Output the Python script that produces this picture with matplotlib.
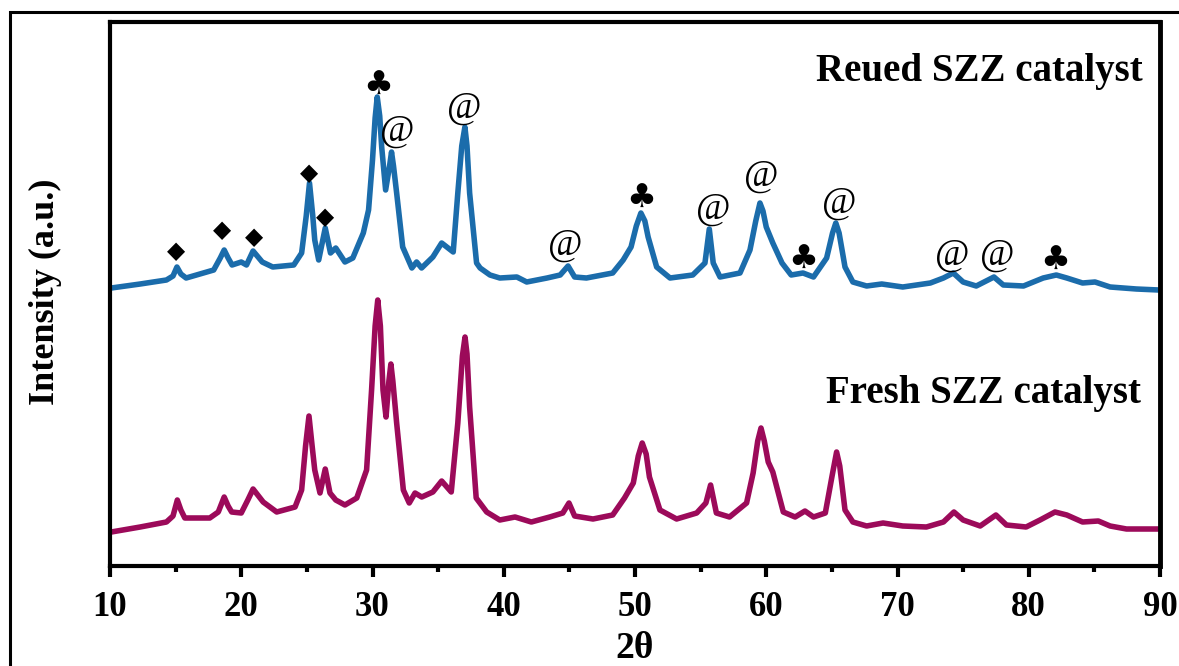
import matplotlib
matplotlib.use("Agg")
import matplotlib.pyplot as plt
from matplotlib.patches import Rectangle

# 2-theta positions and intensities (a.u.)
x_reused = [10.1, 12.3, 14.3, 14.8, 15.1, 15.4, 15.8, 17.9, 18.4, 18.7, 19.0, 19.3, 20.0, 20.4,
            20.9, 21.6, 22.4, 24.0, 24.6, 24.95, 25.2, 25.45, 25.6, 25.9, 26.4, 26.8, 27.2,
            27.9, 28.5, 29.3, 29.7, 30.0, 30.2, 30.36, 30.55, 30.7, 31.0, 31.3, 31.45, 31.6,
            31.84, 32.3, 33.0, 33.36, 33.74, 34.6, 35.27, 36.15, 36.5, 36.8, 37.04, 37.2,
            37.4, 37.93, 38.2, 38.95, 39.7, 41.0, 41.75, 43.3, 44.3, 44.9, 45.4, 46.3,
            48.3, 49.1, 49.7, 50.1, 50.45, 50.75, 51.0, 51.65, 52.67, 54.4, 55.33, 55.66,
            55.96, 56.48, 58.0, 58.76, 59.2, 59.52, 59.75, 60.0, 60.5, 61.2, 61.9, 62.8,
            63.6, 64.6, 65.05, 65.3, 65.55, 66.0, 66.6, 67.65, 68.8, 70.4, 72.5, 73.5,
            74.25, 75.0, 76.0, 77.35, 78.06, 79.6, 81.1, 82.1, 82.9, 84.1, 85.05, 86.2,
            88.2, 89.9]
y_reused = [278, 282, 286, 290, 299, 292, 288, 296, 308, 316, 308, 301, 304, 301,
            315, 304, 299, 301, 313, 350, 383, 350, 326, 306, 338, 313, 318,
            304, 308, 333, 356, 406, 448, 469, 450, 419, 376, 400, 414, 400,
            373, 319, 298, 304, 298, 309, 323, 314, 373, 420, 439, 420,
            373, 303, 298, 291, 288, 289, 284, 288, 291, 300, 289, 288,
            293, 306, 319, 340, 353, 345, 329, 299, 288, 291, 303, 337,
            303, 289, 293, 316, 345, 363, 355, 339, 323, 303, 291, 293,
            289, 308, 333, 343, 333, 299, 284, 280, 282, 279, 283, 288,
            293, 284, 280, 289, 281, 280, 288, 291, 288, 283, 284, 279,
            277, 276]

x_fresh = [10.1, 12.3, 14.3, 14.8, 15.13, 15.4, 15.7, 17.6, 18.25, 18.7, 19.0, 19.27, 20.0,
           20.5, 20.9, 21.67, 22.7, 24.1, 24.6, 24.9, 25.16, 25.4, 25.6, 26.0, 26.4, 26.76,
           27.2, 27.9, 28.8, 29.55, 29.93, 30.2, 30.4, 30.6, 30.8, 31.03, 31.25, 31.4, 31.55,
           31.84, 32.35, 32.8, 33.24, 33.75, 34.6, 35.27, 36.0, 36.5, 36.85, 37.05, 37.2,
           37.4, 37.9, 38.7, 39.7, 40.86, 42.1, 43.5, 44.5, 44.97, 45.4, 46.8, 48.3,
           49.2, 49.87, 50.25, 50.55, 50.85, 51.1, 51.9, 53.17, 54.7, 55.4, 55.76, 56.2,
           57.2, 58.5, 59.0, 59.35, 59.6, 59.85, 60.15, 60.5, 61.3, 62.2, 62.95, 63.6,
           64.5, 65.0, 65.36, 65.6, 66.0, 66.6, 67.65, 68.9, 70.4, 72.2, 73.5, 74.3,
           75.0, 76.3, 77.5, 78.3, 79.8, 80.86, 82.0, 82.9, 84.1, 85.3, 86.2, 87.45,
           89.9]
y_fresh = [34, 39, 44, 50, 66, 56, 48, 48, 54, 69, 60, 54, 53,
           66, 77, 64, 54, 59, 76, 120, 150, 120, 96, 73, 97, 73,
           66, 61, 68, 96, 176, 240, 266, 240, 176, 149, 185, 202, 185,
           143, 76, 63, 73, 69, 74, 85, 74, 143, 210, 229, 212,
           159, 68, 54, 46, 49, 44, 49, 53, 63, 50, 47, 51,
           68, 83, 110, 123, 112, 89, 56, 47, 53, 63, 81, 53,
           49, 63, 93, 125, 138, 125, 104, 94, 54, 49, 55, 49,
           53, 89, 114, 100, 56, 44, 40, 43, 40, 39, 44, 54,
           46, 40, 51, 41, 39, 46, 54, 51, 44, 45, 40, 37,
           37]

# phase markers above the reused pattern
mark_x = [15.03, 18.5, 20.97, 25.16, 26.4, 30.4, 31.9, 37.0, 44.7, 50.5,
          56.0, 59.6, 62.8, 65.6, 74.2, 77.6, 82.0]
mark_y = [315, 336, 329, 393, 349, 481, 435, 458, 321, 368,
          357, 390, 307, 363, 311, 311, 306]
mark_s = ["◆", "◆", "◆", "◆", "◆", "♣", "@", "@", "@", "♣",
          "@", "@", "♣", "@", "@", "@", "♣"]

serif = "Liberation Serif"
W, H = 1179, 666

fig = plt.figure(figsize=(11.79, 6.66), dpi=100)
ax = fig.add_axes([110 / W, 1 - 566 / H, 1050 / W, 544 / H])

ax.plot(x_reused, y_reused, color="#1b6cab", lw=4, solid_joinstyle="round")
ax.plot(x_fresh, y_fresh, color="#9c0a5a", lw=4, solid_joinstyle="round")

for mx, my, ms in zip(mark_x, mark_y, mark_s):
    if ms == "@":
        ax.text(mx, my, ms, fontsize=27, family=serif, ha="center", va="center")
    elif ms == "♣":
        ax.text(mx, my, ms, fontsize=24, family="DejaVu Sans", ha="center", va="center")
    else:
        ax.text(mx, my, ms, fontsize=17, family="DejaVu Sans", ha="center", va="center")

fig.text(1143 / W, 1 - 72 / H, "Reued SZZ catalyst", fontsize=28, fontweight="bold",
         family=serif, ha="right", va="center")
fig.text(1141 / W, 1 - 394 / H, "Fresh SZZ catalyst", fontsize=28, fontweight="bold",
         family=serif, ha="right", va="center")

ax.set_xlim(10, 90)
ax.set_ylim(0, 544)
ax.set_xticks(range(10, 91, 10))
ax.set_xticks(range(15, 90, 10), minor=True)
ax.set_yticks([])
for lbl in ax.get_xticklabels():
    lbl.set_fontfamily(serif)
    lbl.set_fontweight("bold")
    lbl.set_fontsize(25)
ax.tick_params(axis="x", which="major", direction="out", length=8, width=3, pad=10)
ax.tick_params(axis="x", which="minor", direction="out", length=4, width=3)
for sp in ax.spines.values():
    sp.set_linewidth(3)
ax.spines["right"].set_linewidth(3.5)

fig.text(635 / W, 1 - 648 / H, "2θ", fontsize=27, fontweight="bold", family=serif,
         ha="center", va="center")
fig.text(45 / W, 1 - 292 / H, "Intensity (a.u.)", rotation=90, fontsize=26,
         fontweight="bold", family=serif, ha="center", va="center")

# outer frame around the whole figure
fig.patches.append(Rectangle((10 / W, -0.05), 1.1, 0.05 + 1 - 12 / H,
                             transform=fig.transFigure, fill=False, lw=2.2,
                             edgecolor="black"))

fig.savefig("out.png", dpi=100)
